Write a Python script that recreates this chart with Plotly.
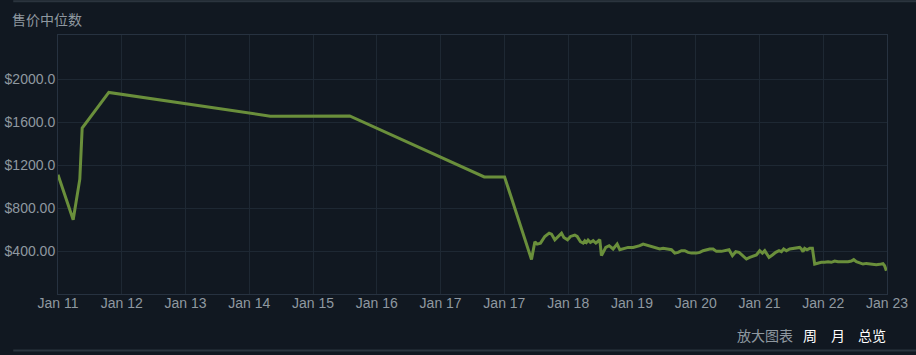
import plotly.graph_objects as go

# x positions are in tick-interval units (0 = first tick "Jan 11", 13 = last tick "Jan 23")
tick_labels = ["Jan 11", "Jan 12", "Jan 13", "Jan 14", "Jan 15", "Jan 16", "Jan 17",
               "Jan 17", "Jan 18", "Jan 19", "Jan 20", "Jan 21", "Jan 22", "Jan 23"]
y_tick_values = [400, 800, 1200, 1600, 2000]
y_tick_labels = ["$400.00", "$800.00", "$1200.0", "$1600.0", "$2000.0"]

x_pos = [0.0, 0.238, 0.342, 0.379, 0.797, 3.33, 4.574, 6.685, 7.003, 7.425,
         7.478, 7.514, 7.566, 7.634, 7.702, 7.739, 7.791, 7.843, 7.896, 7.932,
         7.990, 8.037, 8.104, 8.141, 8.193, 8.235, 8.261, 8.287, 8.313, 8.350,
         8.392, 8.434, 8.496, 8.522, 8.559, 8.590, 8.643, 8.705, 8.747, 8.768,
         8.810, 8.873, 8.940, 9.019, 9.071, 9.123, 9.176, 9.228, 9.280, 9.332,
         9.385, 9.437, 9.489, 9.567, 9.620, 9.672, 9.724, 9.776, 9.829, 9.881,
         9.933, 10.011, 10.064, 10.116, 10.168, 10.220, 10.273, 10.325, 10.403, 10.482,
         10.523, 10.576, 10.628, 10.680, 10.733, 10.795, 10.847, 10.900, 10.952, 11.004,
         11.046, 11.083, 11.109, 11.150, 11.203, 11.255, 11.307, 11.344, 11.380, 11.422,
         11.474, 11.527, 11.579, 11.631, 11.657, 11.683, 11.709, 11.746, 11.788, 11.830,
         11.866, 11.918, 11.971, 12.023, 12.075, 12.127, 12.180, 12.232, 12.284, 12.336,
         12.389, 12.441, 12.478, 12.519, 12.572, 12.624, 12.676, 12.728, 12.781, 12.833,
         12.885, 12.937, 12.963, 12.990]
median_price = [1110, 691, 1069, 1545, 1877, 1656, 1658, 1090, 1090, 322,
                487, 465, 474, 536, 567, 558, 505, 536, 567, 527,
                505, 536, 549, 536, 487, 474, 496, 480, 502, 480,
                496, 474, 505, 357, 403, 434, 450, 419, 450, 465,
                412, 425, 434, 434, 440, 450, 465, 456, 443, 434,
                425, 419, 425, 419, 412, 381, 388, 403, 403, 388,
                381, 381, 388, 403, 412, 419, 419, 397, 397, 403,
                412, 357, 394, 388, 363, 326, 341, 350, 363, 403,
                381, 403, 381, 341, 363, 388, 403, 394, 419, 403,
                419, 425, 425, 434, 419, 394, 425, 412, 425, 425,
                279, 289, 295, 295, 301, 295, 307, 301, 301, 295,
                301, 307, 320, 301, 289, 279, 285, 279, 279, 273,
                276, 282, 264, 217]

BG = "#111821"
GRID = "#1e2833"
TXT = "#8f98a0"

fig = go.Figure()
fig.add_trace(go.Scatter(
    x=x_pos, y=median_price, mode="lines",
    line=dict(color="#6a8f3b", width=3), hoverinfo="skip", showlegend=False))

fig.update_layout(
    width=916, height=355,
    margin=dict(l=57.5, r=29, t=35, b=61),
    paper_bgcolor=BG, plot_bgcolor=BG,
    font=dict(family="Liberation Sans, Arial, sans-serif", size=14, color=TXT),
    xaxis=dict(range=[0, 13], tickmode="array", tickvals=list(range(len(tick_labels))),
               ticktext=tick_labels, showgrid=True, gridcolor=GRID, gridwidth=1,
               zeroline=False, showline=True, linecolor="#273240", linewidth=1, mirror=True,
               ticks="", ticklabelstandoff=-4, automargin=False,
               tickfont=dict(size=14, color=TXT)),
    yaxis=dict(range=[0, 2412], tickmode="array", tickvals=y_tick_values,
               ticktext=y_tick_labels, showgrid=True, gridcolor=GRID, gridwidth=1,
               zeroline=False, showline=True, linecolor="#273240", linewidth=1, mirror=True,
               ticks="", ticklabelstandoff=-1, automargin=False,
               tickfont=dict(size=14, color=TXT)),
    annotations=[
        dict(text="售价中位数", xref="paper", yref="paper", x=-0.0575, y=1.062,
             xanchor="left", yanchor="middle", showarrow=False,
             font=dict(family="Noto Sans CJK SC", size=14, color=TXT)),
        dict(text="放大图表", xref="paper", yref="paper", x=0.8529, y=-0.158,
             xanchor="center", yanchor="middle", showarrow=False,
             font=dict(family="Noto Sans CJK SC", size=14, color=TXT)),
        dict(text="周", xref="paper", yref="paper", x=0.9072, y=-0.158,
             xanchor="center", yanchor="middle", showarrow=False,
             font=dict(family="Noto Sans CJK SC", size=14, color="#ffffff")),
        dict(text="月", xref="paper", yref="paper", x=0.9413, y=-0.158,
             xanchor="center", yanchor="middle", showarrow=False,
             font=dict(family="Noto Sans CJK SC", size=14, color="#ffffff")),
        dict(text="总览", xref="paper", yref="paper", x=0.9823, y=-0.158,
             xanchor="center", yanchor="middle", showarrow=False,
             font=dict(family="Noto Sans CJK SC", size=14, color="#ffffff")),
    ],
    shapes=[
        dict(type="line", xref="paper", yref="paper", x0=-0.054, x1=1.04,
             y0=1.13, y1=1.13, line=dict(color="#2b343e", width=2)),
        dict(type="line", xref="paper", yref="paper", x0=-0.054, x1=1.04,
             y0=-0.218, y1=-0.218, line=dict(color="#2b343e", width=2)),
    ],
)

fig.write_html("out.html")
